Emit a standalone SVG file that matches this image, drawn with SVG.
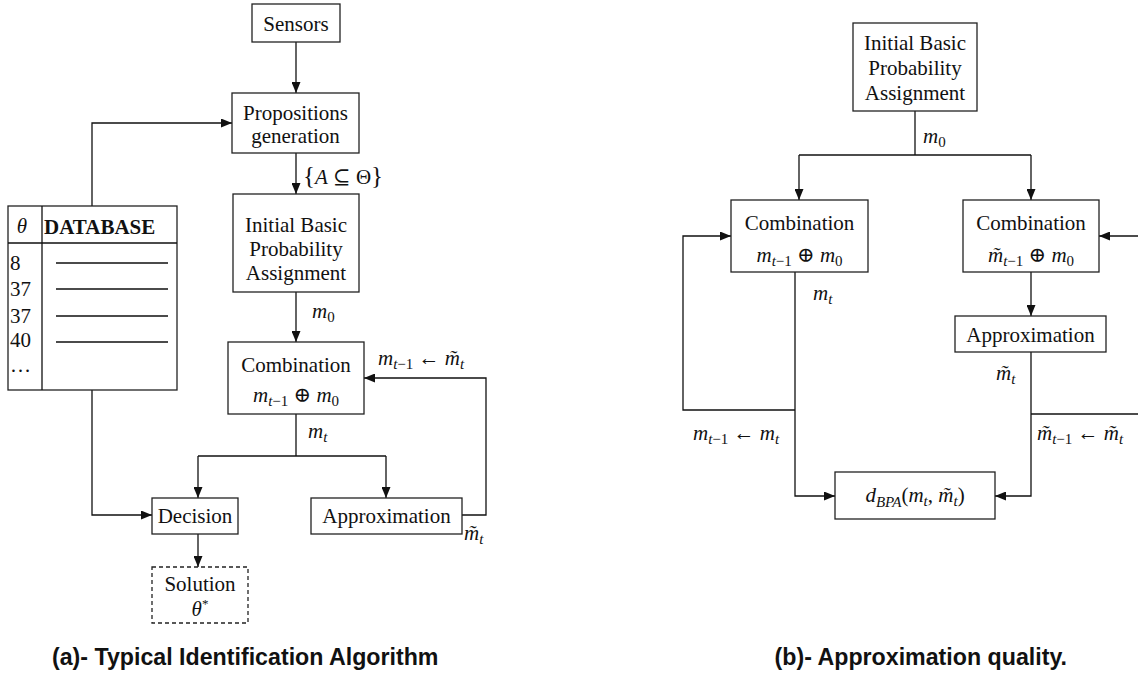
<svg xmlns="http://www.w3.org/2000/svg" width="1138" height="686" viewBox="0 0 1138 686">
  <style>
    .box { fill: #fff; stroke: #222; stroke-width: 1.3; }
    .dash { stroke-dasharray: 4 3; }
    .wire { fill: none; stroke: #111; stroke-width: 1.3; }
    .t { font-family: "Liberation Serif", "DejaVu Serif", serif; font-size: 21px; fill: #111; }
    .c { text-anchor: middle; }
    .i { font-style: italic; }
    .cap { font-family: "Liberation Sans", Arial, sans-serif; font-size: 23.2px; font-weight: bold; fill: #111; }
  </style>
  <defs>
    <marker id="arrow" markerWidth="11" markerHeight="9" refX="11" refY="4.5" orient="auto" markerUnits="userSpaceOnUse">
      <path d="M0,0 L11,4.5 L0,9 Z" fill="#111"/>
    </marker>
  </defs>
  <rect width="1138" height="686" fill="#fff"/>

  <!-- connectors -->
  <g id="connectors">
    <!-- (a) identification algorithm -->
    <path class="wire" d="M296,42 V93" marker-end="url(#arrow)"/>
    <path class="wire" d="M92,206 V123 H232" marker-end="url(#arrow)"/>
    <path class="wire" d="M296,153 V194" marker-end="url(#arrow)"/>
    <path class="wire" d="M296,292 V342" marker-end="url(#arrow)"/>
    <path class="wire" d="M296,414 V456"/>
    <path class="wire" d="M198,456 H386"/>
    <path class="wire" d="M198,456 V498" marker-end="url(#arrow)"/>
    <path class="wire" d="M386,456 V498" marker-end="url(#arrow)"/>
    <path class="wire" d="M462,515 H486 V378 H364" marker-end="url(#arrow)"/>
    <path class="wire" d="M92,390 V515 H152" marker-end="url(#arrow)"/>
    <path class="wire" d="M198,534 V567" marker-end="url(#arrow)"/>
    <!-- (b) approximation quality -->
    <path class="wire" d="M915,111 V155"/>
    <path class="wire" d="M799,155 H1031"/>
    <path class="wire" d="M799,155 V200" marker-end="url(#arrow)"/>
    <path class="wire" d="M1031,155 V200" marker-end="url(#arrow)"/>
    <path class="wire" d="M795,410 H683 V236 H731" marker-end="url(#arrow)"/>
    <path class="wire" d="M795,272 V496 H835" marker-end="url(#arrow)"/>
    <path class="wire" d="M1031,272 V316" marker-end="url(#arrow)"/>
    <path class="wire" d="M1031,352 V496 H995" marker-end="url(#arrow)"/>
    <path class="wire" d="M1031,414 H1138"/>
    <path class="wire" d="M1138,236 H1099" marker-end="url(#arrow)"/>
  </g>

  <!-- connector labels -->
  <g id="labels" class="t">
    <text x="303" y="184"><tspan font-size="25">{</tspan><tspan class="i">A</tspan> ⊆ Θ<tspan font-size="25">}</tspan></text>
    <text x="312" y="318"><tspan class="i">m</tspan><tspan font-size="15" dy="4">0</tspan></text>
    <text x="308" y="438"><tspan class="i">m</tspan><tspan class="i" font-size="15" dy="4">t</tspan></text>
    <text x="378" y="365"><tspan class="i">m</tspan><tspan class="i" font-size="15" dy="4">t</tspan><tspan font-size="15">−1</tspan><tspan dy="-4"> ← </tspan><tspan class="i">m&#x303;</tspan><tspan class="i" font-size="15" dy="4">t</tspan></text>
    <text x="464" y="540"><tspan class="i">m&#x303;</tspan><tspan class="i" font-size="15" dy="4">t</tspan></text>

    <text x="923" y="143"><tspan class="i">m</tspan><tspan font-size="15" dy="4">0</tspan></text>
    <text x="813" y="300"><tspan class="i">m</tspan><tspan class="i" font-size="15" dy="4">t</tspan></text>
    <text x="693" y="440"><tspan class="i">m</tspan><tspan class="i" font-size="15" dy="4">t</tspan><tspan font-size="15">−1</tspan><tspan dy="-4"> ← </tspan><tspan class="i">m</tspan><tspan class="i" font-size="15" dy="4">t</tspan></text>
    <text x="996" y="380"><tspan class="i">m&#x303;</tspan><tspan class="i" font-size="15" dy="4">t</tspan></text>
    <text x="1037" y="440"><tspan class="i">m&#x303;</tspan><tspan class="i" font-size="15" dy="4">t</tspan><tspan font-size="15">−1</tspan><tspan dy="-4"> ← </tspan><tspan class="i">m&#x303;</tspan><tspan class="i" font-size="15" dy="4">t</tspan></text>
  </g>

  <!-- (a) nodes -->
  <g id="sensors">
    <rect class="box" x="252" y="4" width="88" height="38"/>
    <text class="t c" x="296" y="31">Sensors</text>
  </g>
  <g id="propositions">
    <rect class="box" x="232" y="93" width="127" height="60"/>
    <text class="t c" x="295.5" y="120">Propositions</text>
    <text class="t c" x="295.5" y="143">generation</text>
  </g>
  <g id="database">
    <rect class="box" x="8" y="206" width="169" height="184"/>
    <path class="wire" d="M42,206 V390 M8,243 H177"/>
    <text class="t c i" x="22" y="233">θ</text>
    <text class="t" x="44" y="234" font-size="23" font-weight="bold">DATABASE</text>
    <text class="t" x="10" y="270">8</text>
    <text class="t" x="10" y="296">37</text>
    <text class="t" x="10" y="323">37</text>
    <text class="t" x="10" y="347">40</text>
    <text class="t" x="10" y="372">…</text>
    <path class="wire" d="M56,263 H168 M56,289 H168 M56,316 H168 M56,342 H168"/>
  </g>
  <g id="ibpa-a">
    <rect class="box" x="233" y="194" width="126" height="98"/>
    <text class="t c" x="296" y="232">Initial Basic</text>
    <text class="t c" x="296" y="256">Probability</text>
    <text class="t c" x="296" y="280">Assignment</text>
  </g>
  <g id="combination-a">
    <rect class="box" x="228" y="342" width="136" height="72"/>
    <text class="t c" x="296" y="372">Combination</text>
    <text class="t c" x="296" y="402"><tspan class="i">m</tspan><tspan class="i" font-size="15" dy="4">t</tspan><tspan font-size="15">−1</tspan><tspan dy="-4"> ⊕ </tspan><tspan class="i">m</tspan><tspan font-size="15" dy="4">0</tspan></text>
  </g>
  <g id="decision">
    <rect class="box" x="152" y="498" width="86" height="36"/>
    <text class="t c" x="195" y="523">Decision</text>
  </g>
  <g id="approximation-a">
    <rect class="box" x="311" y="498" width="151" height="36"/>
    <text class="t c" x="386.5" y="523">Approximation</text>
  </g>
  <g id="solution">
    <rect class="box dash" x="152" y="567" width="96" height="56"/>
    <text class="t c" x="200" y="591">Solution</text>
    <text class="t c" x="200" y="616"><tspan class="i">θ</tspan><tspan font-size="13" dy="-8">*</tspan></text>
  </g>

  <!-- (b) nodes -->
  <g id="ibpa-b">
    <rect class="box" x="853" y="23" width="124" height="88"/>
    <text class="t c" x="915" y="50">Initial Basic</text>
    <text class="t c" x="915" y="75">Probability</text>
    <text class="t c" x="915" y="100">Assignment</text>
  </g>
  <g id="combination-b1">
    <rect class="box" x="731" y="200" width="137" height="72"/>
    <text class="t c" x="799.5" y="230">Combination</text>
    <text class="t c" x="799.5" y="262"><tspan class="i">m</tspan><tspan class="i" font-size="15" dy="4">t</tspan><tspan font-size="15">−1</tspan><tspan dy="-4"> ⊕ </tspan><tspan class="i">m</tspan><tspan font-size="15" dy="4">0</tspan></text>
  </g>
  <g id="combination-b2">
    <rect class="box" x="963" y="200" width="136" height="72"/>
    <text class="t c" x="1031" y="230">Combination</text>
    <text class="t c" x="1031" y="262"><tspan class="i">m&#x303;</tspan><tspan class="i" font-size="15" dy="4">t</tspan><tspan font-size="15">−1</tspan><tspan dy="-4"> ⊕ </tspan><tspan class="i">m</tspan><tspan font-size="15" dy="4">0</tspan></text>
  </g>
  <g id="approximation-b">
    <rect class="box" x="955" y="316" width="151" height="36"/>
    <text class="t c" x="1030.5" y="342">Approximation</text>
  </g>
  <g id="distance">
    <rect class="box" x="835" y="472" width="160" height="47"/>
    <text class="t c" x="915" y="502"><tspan class="i">d</tspan><tspan class="i" font-size="15" dy="5">BPA</tspan><tspan dy="-5">(</tspan><tspan class="i">m</tspan><tspan class="i" font-size="15" dy="4">t</tspan><tspan dy="-4">, </tspan><tspan class="i">m&#x303;</tspan><tspan class="i" font-size="15" dy="4">t</tspan><tspan dy="-4">)</tspan></text>
  </g>

  <!-- captions -->
  <text class="cap" x="52" y="665">(a)- Typical Identification Algorithm</text>
  <text class="cap" x="1067" y="665" text-anchor="end">(b)- Approximation quality.</text>
</svg>
